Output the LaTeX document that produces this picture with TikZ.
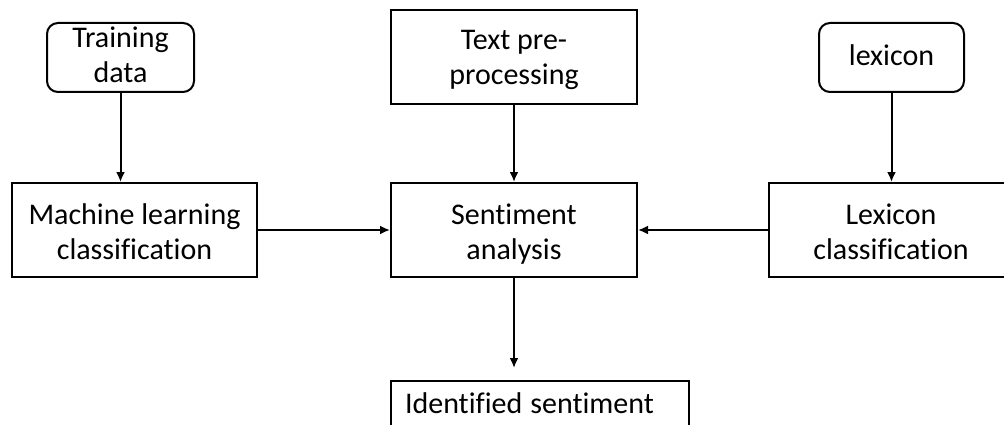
\documentclass[tikz,border=0pt]{standalone}
\usepackage{fontspec}
\setmainfont{Carlito}[Ligatures=NoCommon]
\usetikzlibrary{arrows.meta}

\begin{document}
\begin{tikzpicture}[x=1pt, y=-1pt, line width=2,
    box/.style={draw, align=center, inner ysep=0, inner xsep=0, font=\fontsize{30}{35}\selectfont},
    roundbox/.style={box, rounded corners=11},
    arr/.style={-{Latex[length=10,width=9]}}]
    \useasboundingbox (0,0) rectangle (1004,425);
    \clip (0,0) rectangle (1004,425);
    % top row
    \node[roundbox, minimum width=147, text height=60, text depth=9] (train) at (120.5,57.5) {Training\\data};
    \node[box, minimum width=246, text height=75, text depth=19] (prep) at (514,57) {Text pre-\\processing};
    \node[roundbox, minimum width=145, text height=43, text depth=26] (lex) at (891.5,57.5) {lexicon};
    % middle row
    \node[box, minimum width=245, text height=76, text depth=18] (ml) at (134.5,230) {Machine learning\\classification};
    \node[box, minimum width=246, text height=76, text depth=18] (sent) at (514,230) {Sentiment\\analysis};
    \node[box, minimum width=244, text height=76, text depth=18] (lexcl) at (891,230) {Lexicon\\classification};
    % result
    \node[box, anchor=north, text width=270, align=left, inner xsep=14,
        text height=32, text depth=62] (ident) at (540,380) {Identified\hspace{-2pt} sentiment};
    \draw[arr] (train) -- (train |- ml.north);
    \draw[arr] (prep) -- (sent);
    \draw[arr] (lex) -- (lex |- lexcl.north);
    \draw[arr] (ml) -- (sent);
    \draw[arr] (lexcl) -- (sent);
    \draw[arr, shorten >=12] (sent) -- (sent |- ident.north);
\end{tikzpicture}
\end{document}
